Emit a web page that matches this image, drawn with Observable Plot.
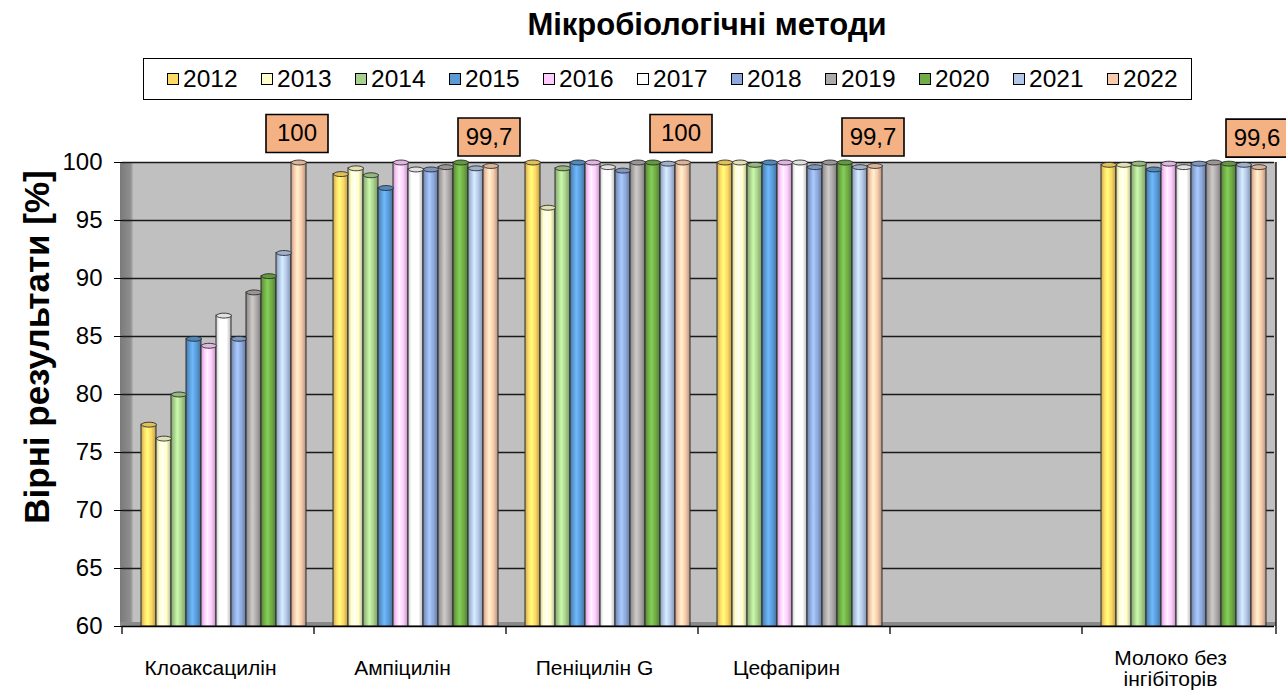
<!DOCTYPE html>
<html>
<head>
<meta charset="utf-8">
<script src="https://cdn.jsdelivr.net/npm/d3@7"></script>
<script src="https://cdn.jsdelivr.net/npm/@observablehq/plot@0.6"></script>
<style>
  body { margin: 0; background: #fff; font-family: "Liberation Sans", Arial, sans-serif; }
  #wrap { position: relative; width: 1286px; height: 693px; overflow: hidden; }
  #title { position: absolute; left: 407px; width: 600px; top: 7px; text-align: center; font-weight: bold; font-size: 31px; color: #000; }
  #legend { position: absolute; left: 143px; top: 58px; width: 1049px; height: 42px; border: 1px solid #000; display: flex; align-items: center; padding-left: 23px; box-sizing: border-box; white-space: nowrap; }
  .item { display: inline-flex; align-items: center; width: 94px; flex-shrink: 0; font-size: 24.5px; color: #000; }
  .sw { width: 10px; height: 10px; border: 1.5px solid #000; margin-right: 4px; }
  #ylabel { position: absolute; left: 37px; top: 347px; transform: translate(-50%, -50%) rotate(-90deg); font-weight: bold; font-size: 35px; white-space: nowrap; color: #000; }
  #chart { position: absolute; left: 0; top: 105px; }
</style>
</head>
<body>
<div id="wrap">
  <div id="title">Мікробіологічні методи</div>
  <div id="legend"></div>
  <div id="ylabel">Вірні результати [%]</div>
  <div id="chart"></div>
</div>
<script>
const categories = ["Клоаксацилін", "Ампіцилін", "Пеніцилін G", "Цефапірин", " ", "Молоко без\nінгібіторів"];
const years = ["2012", "2013", "2014", "2015", "2016", "2017", "2018", "2019", "2020", "2021", "2022"];
const colors = ["#FFD966", "#FFFFCC", "#A9D18E", "#5B9BD5", "#FFCCFF", "#FFFFFF", "#8EA9DB", "#AEAAAA", "#70AD47", "#B4C7E7", "#F8CBAD"];
const yTicks = [60, 65, 70, 75, 80, 85, 90, 95, 100];

const v2012 = [77.4, 99.0, 100, 100, null, 99.8];
const v2013 = [76.2, 99.5, 96.1, 100, null, 99.8];
const v2014 = [80.0, 98.9, 99.5, 99.8, null, 99.9];
const v2015 = [84.8, 97.8, 100, 100, null, 99.4];
const v2016 = [84.2, 100, 100, 100, null, 99.9];
const v2017 = [86.8, 99.4, 99.6, 100, null, 99.6];
const v2018 = [84.8, 99.4, 99.3, 99.6, null, 99.9];
const v2019 = [88.8, 99.6, 100, 100, null, 100];
const v2020 = [90.2, 100, 100, 100, null, 99.9];
const v2021 = [92.2, 99.5, 99.9, 99.6, null, 99.8];
const v2022 = [100, 99.7, 100, 99.7, null, 99.6];
const series = [v2012, v2013, v2014, v2015, v2016, v2017, v2018, v2019, v2020, v2021, v2022];
const labelYear = "2022";

const rows = [];
years.forEach((yr, i) => categories.forEach((c, j) => rows.push({cat: c, year: yr, value: series[i][j]})));

// legend
const leg = document.getElementById("legend");
years.forEach((yr, i) => {
  const it = document.createElement("div"); it.className = "item";
  const sw = document.createElement("div"); sw.className = "sw"; sw.style.background = colors[i];
  const t = document.createElement("span"); t.textContent = yr;
  it.appendChild(sw); it.appendChild(t); leg.appendChild(it);
});

const ellipse = {
  draw(ctx, size) {
    const rx = Math.sqrt(size / Math.PI), ry = rx * 0.33, k = 0.5523;
    ctx.moveTo(rx, 0);
    ctx.bezierCurveTo(rx, ry * k, rx * k, ry, 0, ry);
    ctx.bezierCurveTo(-rx * k, ry, -rx, ry * k, -rx, 0);
    ctx.bezierCurveTo(-rx, -ry * k, -rx * k, -ry, 0, -ry);
    ctx.bezierCurveTo(rx * k, -ry, rx, -ry * k, rx, 0);
    ctx.closePath();
  }
};
const box = { draw(ctx) { ctx.rect(-31, -19, 62, 38); } };

const barMarks = years.map((yr, i) => Plot.barY(rows.filter(d => d.year === yr), {
  fx: "cat", x: "year", y1: 60, y2: "value",
  fill: `url(#g${yr})`, stroke: "#2a2a2a", strokeWidth: 1, dx: 5
}));
const capMarks = years.map((yr, i) => Plot.dot(rows.filter(d => d.year === yr && d.value != null), {
  fx: "cat", x: "year", y: "value", symbol: ellipse, r: 7.4,
  fill: d3.color(colors[i]).darker(0.35).formatHex(), stroke: "#2a2a2a", strokeWidth: 0.9, dx: 5
}));
const lab = rows.filter(d => d.year === labelYear && d.value != null);

const svg = Plot.plot({
  width: 1286, height: 588,
  marginTop: 57, marginBottom: 67, marginLeft: 120, marginRight: 10,
  style: {fontFamily: "Liberation Sans, Arial, sans-serif", color: "#000", background: "transparent"},
  fx: {domain: categories, padding: 0, axis: null},
  x: {domain: years, paddingInner: 0.03, paddingOuter: 0.77, axis: null},
  y: {domain: [60, 100], axis: null},
  marks: [
    Plot.gridY(yTicks.slice(1), {stroke: "#1a1a1a", strokeOpacity: 1, strokeWidth: 1.3}),
    ...barMarks,
    ...capMarks,
    Plot.ruleY([60], {stroke: "#000", strokeWidth: 1.5}),
    Plot.axisY(yTicks, {fontSize: 24, tickSize: 8, tickPadding: 12, label: null, stroke: "#000", fill: "#000"}),
    Plot.text(categories, {fx: d => d, text: d => d, frameAnchor: "bottom", dy: 42, dx: -8, lineAnchor: "middle", fontSize: 21, fill: "#000"}),
    Plot.dot(lab, {fx: "cat", x: "year", y: "value", symbol: box, r: 10, fill: "#F4B183", stroke: "#000", strokeWidth: 1.6, dx: 3, dy: -29}),
    Plot.text(lab, {fx: "cat", x: "year", y: "value", text: d => String(d.value).replace(".", ","), fontSize: 24, fill: "#000", dx: 3, dy: -29})
  ]
});

// gradients for cylinder look, background wall, category boundary ticks
const sel = d3.select(svg);
const defs = sel.insert("defs", ":first-child");
years.forEach((yr, i) => {
  const c = d3.color(colors[i]);
  const g = defs.append("linearGradient").attr("id", "g" + yr).attr("x1", 0).attr("x2", 1).attr("y1", 0).attr("y2", 0);
  [[0, c.darker(0.7)], [0.22, c], [0.42, c.brighter(0.5)], [0.7, c], [1, c.darker(0.9)]].forEach(([o, col]) =>
    g.append("stop").attr("offset", o).attr("stop-color", col.formatHex()));
});
const fx = svg.scale("fx"), ys = svg.scale("y");
const [xL, xR] = fx.range;
const yTop = ys.apply(100), yBot = ys.apply(60);
const bg = sel.insert("g", "defs + *");
bg.append("rect").attr("x", xL).attr("y", yTop).attr("width", xR - xL).attr("height", yBot - yTop).attr("fill", "#C0C0C0");
const wall = defs.append("linearGradient").attr("id", "wall").attr("x1", 0).attr("x2", 1);
wall.append("stop").attr("offset", 0).attr("stop-color", "#7a7a7a");
wall.append("stop").attr("offset", 0.8).attr("stop-color", "#8e8e8e");
wall.append("stop").attr("offset", 1).attr("stop-color", "#b5b5b5");
bg.append("rect").attr("x", xL).attr("y", yTop).attr("width", 13).attr("height", yBot - yTop).attr("fill", "url(#wall)");
bg.append("rect").attr("x", xL).attr("y", yBot - 4).attr("width", xR - xL).attr("height", 4).attr("fill", "#8a8a8a");
const tk = sel.append("g").attr("stroke", "#000").attr("stroke-width", 1.3);
categories.forEach(c => {
  const x = fx.apply(c);
  tk.append("line").attr("x1", x).attr("x2", x).attr("y1", yBot).attr("y2", yBot + 8);
});
tk.append("line").attr("x1", xR).attr("x2", xR).attr("y1", yBot).attr("y2", yBot + 8);
tk.append("line").attr("x1", xR).attr("x2", xR).attr("y1", yTop).attr("y2", yBot);

document.getElementById("chart").appendChild(svg);
</script>
</body>
</html>
